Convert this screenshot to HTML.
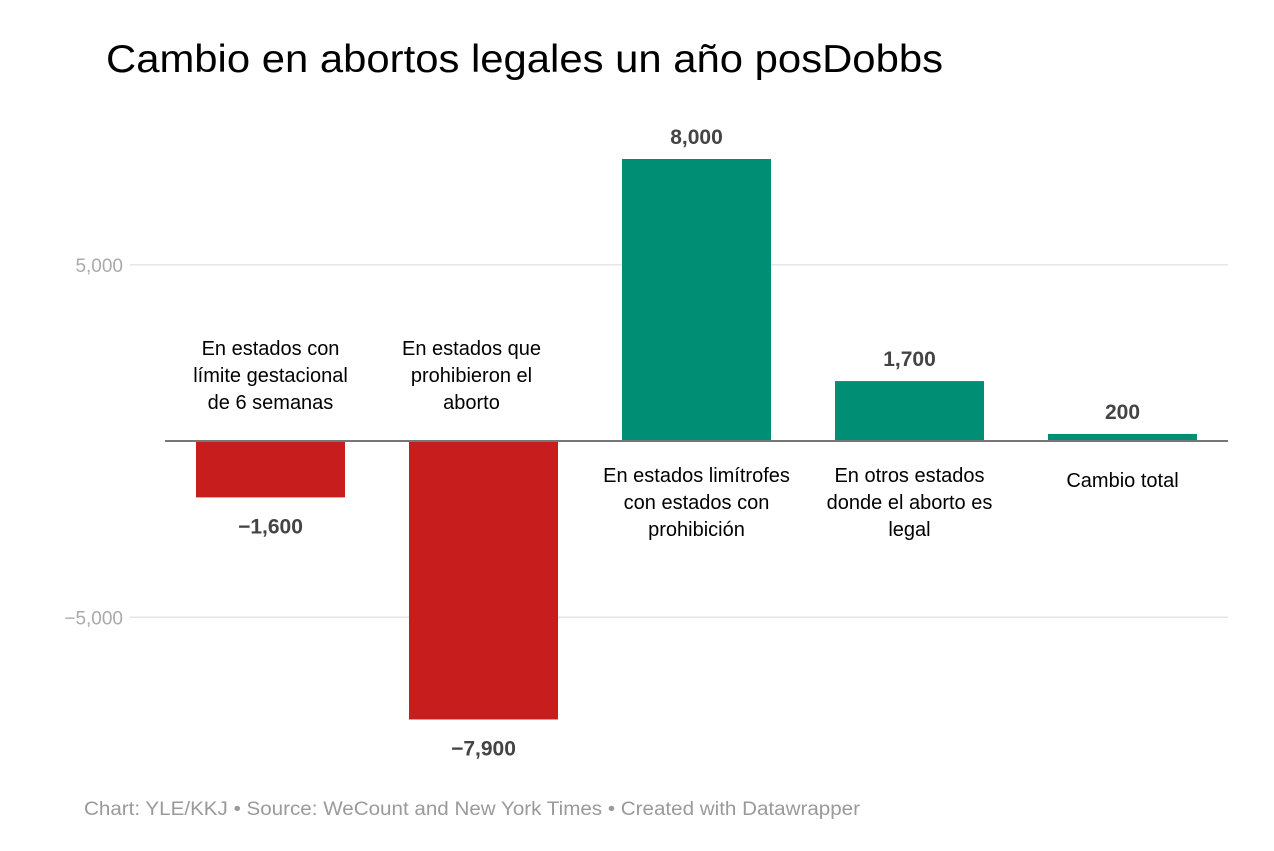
<!DOCTYPE html>
<html><head><meta charset="utf-8">
<style>
body{margin:0;background:#fff;width:1274px;height:846px;overflow:hidden;font-family:"Liberation Sans",sans-serif}
</style></head>
<body>
<svg width="1274" height="846">
<text x="106" y="72" font-size="39" fill="#000" textLength="837" lengthAdjust="spacingAndGlyphs">Cambio en abortos legales un año posDobbs</text>
<g id="grid"></g>
<g id="bars"></g>
<g id="labels"></g>
<text x="84" y="815" font-size="19" fill="#9a9a9a" textLength="776" lengthAdjust="spacingAndGlyphs">Chart: YLE/KKJ • Source: WeCount and New York Times • Created with Datawrapper</text>
</svg>
<script>
const categories=["En estados con|límite gestacional|de 6 semanas","En estados que|prohibieron el|aborto","En estados limítrofes|con estados con|prohibición","En otros estados|donde el aborto es|legal","Cambio total"];
const values=[-1600,-7900,8000,1700,200];
const valueLabels=["−1,600","−7,900","8,000","1,700","200"];
const ticks=[5000,-5000];
const tickLabels=["5,000","−5,000"];
const NS="http://www.w3.org/2000/svg";
function y(v){return 441-v*0.03525;}
function xb(i){return 196+i*213;}
const BW=149;
function mk(tag,attrs,parent){const e=document.createElementNS(NS,tag);for(const k in attrs)e.setAttribute(k,attrs[k]);document.getElementById(parent).appendChild(e);return e;}
ticks.forEach((t,i)=>{
 const l=mk('line',{x1:130,x2:1228,y1:y(t),y2:y(t),stroke:'#e6e6e6','stroke-width':1.5},'grid');
 
 
 const tx=mk('text',{x:123,y:y(t)+7,'font-size':19,fill:'#aaaaaa','text-anchor':'end'},'grid');
 tx.textContent=tickLabels[i];
 
 
});
values.forEach((v,i)=>{
 const top=Math.min(y(v),y(0)),h=Math.abs(y(v)-y(0));
 const r=mk('rect',{x:xb(i),y:top,width:BW,height:h,fill:v<0?'#c71e1d':'#008f74'},'bars');
 
 
 const t=mk('text',{x:xb(i)+BW/2,y:v<0?y(v)+36:y(v)-15,'font-size':21,'font-weight':'bold',fill:'#444','text-anchor':'middle'},'bars');
 t.textContent=valueLabels[i];
 
 
});
const z=mk('line',{x1:165,x2:1228,y1:y(0),y2:y(0),stroke:'#777','stroke-width':2},'bars');


mk('rect',{x:580,y:443,width:438,height:120,fill:'#fff'},'labels');
categories.forEach((c,i)=>{
 const lines=c.split('|');
 const cx=xb(i)+BW/2+(i==1?-12:0);
 const y0=i<2?355:(i==4?487:482);
 lines.forEach((ln,j)=>{
  const t=mk('text',{x:cx,y:y0+j*27,'font-size':20,fill:'#000','text-anchor':'middle'},'labels');
  t.textContent=ln;
  
  
 });
});
</script>
</body></html>
